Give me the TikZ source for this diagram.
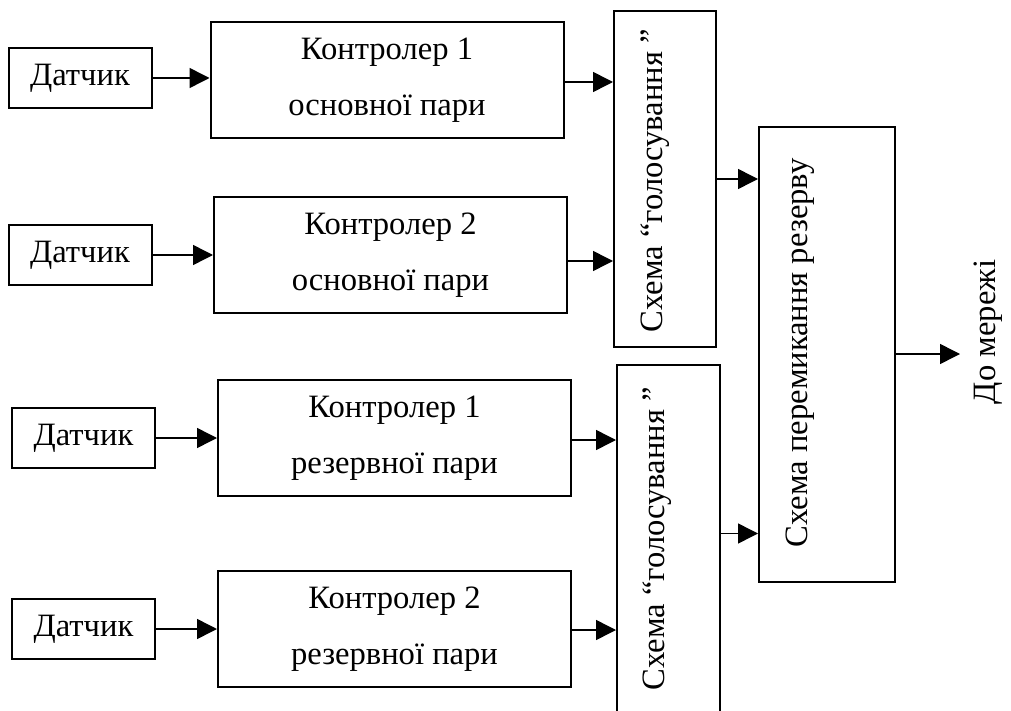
\documentclass[tikz,border=0pt]{standalone}
\usepackage{fontspec}
\setmainfont{Liberation Serif}
\usetikzlibrary{arrows.meta}

\begin{document}
\begin{tikzpicture}[
		x=0.5pt, y=-0.5pt,
		>={Triangle[length=10pt,width=10pt]},
		sensor/.style={rectangle, draw=black, line width=1pt, minimum width=71.5pt, minimum height=30pt, font=\fontsize{16.3}{28}\selectfont},
		ctrl/.style={rectangle, draw=black, line width=1pt, minimum width=176.5pt, minimum height=58pt, align=center, font=\fontsize{16.3}{28}\selectfont},
		vote/.style={rectangle, draw=black, line width=1pt},
		vlabel/.style={rotate=90, font=\fontsize{16.3}{18}\selectfont},
		arr/.style={->, line width=0.75pt}
	]

	\clip (0,0) rectangle (1011,711);

	% Main pair
	\node[sensor] (d1) at (80,78) {Датчик};
	\node[sensor] (d2) at (80,255) {Датчик};
	\node[ctrl] (c1) at (387,80) {Контролер 1\\основної пари};
	\node[ctrl] (c2) at (390.5,255) {Контролер 2\\основної пари};
	\node[vote, minimum width=51pt, minimum height=168pt] (v1) at (665,179) {};
	\node[vlabel] at (655,181) {Схема “голосування ”};
	\draw[arr] (d1.east) -- (d1.east -| c1.west);
	\draw[arr] (d2.east) -- (d2.east -| c2.west);
	\draw[arr] ([yshift=-1pt]c1.east) -- ([yshift=-1pt]c1.east -| v1.west);
	\draw[arr] ([yshift=-3pt]c2.east) -- ([yshift=-3pt]c2.east -| v1.west);

	% Reserve pair
	\node[sensor] (d3) at (83.5,438) {Датчик};
	\node[sensor] (d4) at (83.5,629) {Датчик};
	\node[ctrl] (c3) at (394.5,438) {Контролер 1\\резервної пари};
	\node[ctrl] (c4) at (394.5,629) {Контролер 2\\резервної пари};
	\node[vote, minimum width=51.5pt, minimum height=177.5pt] (v2) at (668.5,542.5) {};
	\node[vlabel] at (657,539) {Схема “голосування ”};
	\draw[arr] (d3.east) -- (d3.east -| c3.west);
	\draw[arr] (d4.east) -- (d4.east -| c4.west);
	\draw[arr] ([yshift=-1pt]c3.east) -- ([yshift=-1pt]c3.east -| v2.west);
	\draw[arr] ([yshift=-0.5pt]c4.east) -- ([yshift=-0.5pt]c4.east -| v2.west);

	% Switching
	\node[vote, minimum width=68pt, minimum height=227.5pt] (sw) at (827,354.5) {};
	\node[vlabel] at (800,353) {Схема перемикання резерву};
	\draw[arr] (v1.east) -- (v1.east -| sw.west);
	\draw[arr] ([yshift=4.5pt]v2.east) -- ([yshift=4.5pt]v2.east -| sw.west);
	\coordinate (net) at (960,354);
	\draw[arr] (sw.east |- net) -- (net);
	\node[vlabel] at (988,332) {До мережі};

\end{tikzpicture}
\end{document}
